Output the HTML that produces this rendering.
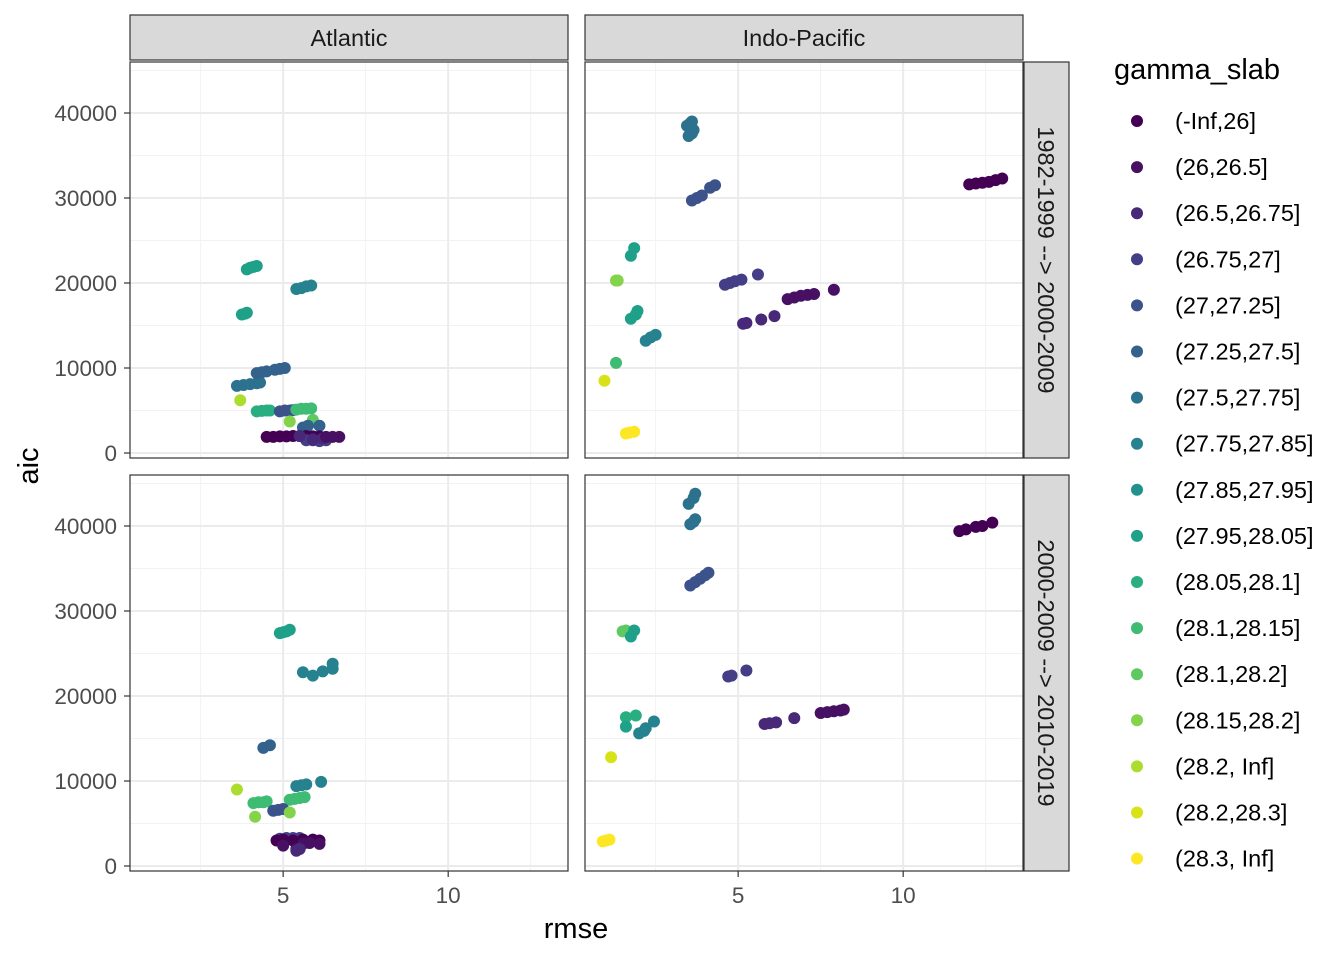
<!DOCTYPE html>
<html><head><meta charset="utf-8"><style>
body{margin:0;background:#fff;font-family:"Liberation Sans",sans-serif}
svg text{font-family:"Liberation Sans",sans-serif}
</style></head><body>
<svg id="c" width="1344" height="960" xmlns="http://www.w3.org/2000/svg"></svg>
<script>
const levels=["(-Inf,26]","(26,26.5]","(26.5,26.75]","(26.75,27]","(27,27.25]","(27.25,27.5]","(27.5,27.75]","(27.75,27.85]","(27.85,27.95]","(27.95,28.05]","(28.05,28.1]","(28.1,28.15]","(28.1,28.2]","(28.15,28.2]","(28.2, Inf]","(28.2,28.3]","(28.3, Inf]"];
const colors=["#440154","#471063","#482878","#433e85","#3b528b","#33638d","#2c728e","#26828e","#21918c","#1fa088","#28ae80","#3fbc73","#5ec962","#84d44b","#addc30","#d8e219","#fde725"];
const xTicks=[5,10];
const yTicks=[0,10000,20000,30000,40000];
const facetCols=["Atlantic","Indo-Pacific"];
const facetRows=["1982-1999 --> 2000-2009","2000-2009 --> 2010-2019"];
const ptPanel=[];const ptX=[];const ptY=[];const ptLev=[];
function add(p,lev,xs,ys){for(let i=0;i<xs.length;i++){ptPanel.push(p);ptLev.push(lev);ptX.push(xs[i]);ptY.push(ys[i]);}}
// Atlantic row1
add(0,9,[3.9,4.0,4.1,4.2],[21600,21800,21900,22000]);
add(0,9,[3.75,3.85,3.9],[16300,16400,16500]);
add(0,7,[5.4,5.55,5.7,5.85],[19300,19400,19600,19700]);
add(0,6,[3.6,3.8,4.0,4.2,4.3],[7900,8000,8100,8200,8300]);
add(0,5,[4.2,4.35,4.5],[9400,9500,9600]);
add(0,5,[4.75,4.9,5.05],[9800,9900,10000]);
add(0,14,[3.7],[6200]);
add(0,10,[4.2,4.35,4.5,4.6],[4900,4950,5000,5000]);
add(0,4,[4.9,5.05,5.2,5.3],[4900,5000,5000,5050]);
add(0,11,[5.4,5.55,5.7,5.85],[5100,5200,5200,5250]);
add(0,13,[5.2],[3700]);add(0,12,[5.9],[3900]);
add(0,5,[5.6,5.75,6.1],[3000,3200,3200]);
add(0,0,[4.5,4.7,4.9,5.1,5.3,5.5,5.7,5.9,6.1],[1900,1900,1950,1950,2000,2000,2000,1950,1950]);
add(0,3,[5.7,5.9,6.1,6.3],[1500,1500,1400,1500]);
add(0,2,[5.5,5.9,6.2],[2000,1600,1700]);
add(0,1,[6.3,6.5,6.7],[1900,1900,1900]);
// Indo row1
add(1,6,[3.45,3.55,3.6,3.5,3.6,3.65],[38500,38800,39000,37300,37600,38000]);
add(1,4,[3.6,3.75,3.9,4.15,4.3],[29700,30000,30300,31200,31500]);
add(1,9,[1.75,1.85],[23200,24100]);
add(1,13,[1.3,1.35],[20300,20300]);
add(1,9,[1.75,1.9,1.95],[15800,16300,16700]);
add(1,7,[2.2,2.35,2.5],[13200,13600,13900]);
add(1,11,[1.3],[10600]);
add(1,15,[0.95],[8500]);
add(1,16,[1.6,1.7,1.85],[2300,2400,2500]);
add(1,3,[4.6,4.75,4.9,5.1],[19800,20000,20200,20400]);add(1,3,[5.6],[21000]);
add(1,2,[5.15,5.25],[15200,15300]);add(1,2,[5.7],[15700]);add(1,2,[6.1],[16100]);
add(1,1,[6.5,6.7,6.9,7.1,7.3],[18100,18300,18500,18600,18700]);add(1,1,[7.9],[19200]);
add(1,0,[12.0,12.2,12.4,12.6,12.8,13.0],[31600,31700,31800,31900,32100,32300]);
// Atlantic row2
add(2,9,[4.9,5.0,5.1,5.2],[27400,27500,27600,27800]);
add(2,7,[5.6],[22800]);add(2,7,[5.9],[22400]);add(2,7,[6.2],[22900]);add(2,7,[6.5,6.5],[23200,23800]);
add(2,5,[4.4,4.6],[13900,14200]);
add(2,7,[5.4,5.55,5.7],[9400,9500,9600]);add(2,7,[6.15],[9900]);
add(2,14,[3.6],[9000]);
add(2,11,[4.1,4.25,4.4,4.5],[7400,7500,7500,7600]);
add(2,11,[5.2,5.35,5.5,5.65],[7800,7900,8000,8100]);
add(2,4,[4.7,4.85,5.0],[6500,6600,6700]);
add(2,13,[5.2],[6300]);add(2,13,[4.15],[5800]);
add(2,3,[4.9,5.1,5.3,5.5],[3200,3300,3300,3300]);
add(2,0,[4.8,5.0,5.3,5.6,5.9,6.1],[3000,3100,3000,3100,3100,3000]);
add(2,1,[5.0,5.4,5.6,5.8,6.1],[2400,2000,2600,2700,2600]);
add(2,2,[5.4,5.5],[1800,2000]);
// Indo row2
add(3,6,[3.5,3.65,3.7],[42600,43300,43800]);add(3,6,[3.55,3.65,3.7],[40200,40500,40800]);
add(3,4,[3.55,3.7,3.85,4.0,4.1],[33000,33400,33800,34200,34500]);
add(3,12,[1.5,1.6],[27600,27700]);add(3,9,[1.75,1.85],[27000,27700]);
add(3,3,[4.7,4.8],[22300,22400]);add(3,3,[5.25],[23000]);
add(3,10,[1.6,1.9],[17500,17700]);add(3,9,[1.6],[16400]);add(3,7,[2.45],[17000]);
add(3,7,[2.0,2.15,2.2],[15600,15900,16200]);
add(3,15,[1.15],[12800]);
add(3,16,[0.9,1.0,1.1],[2900,3000,3100]);
add(3,2,[5.8,5.95,6.15],[16700,16800,16900]);add(3,2,[6.7],[17400]);
add(3,1,[7.5,7.7,7.9,8.1,8.2],[18000,18100,18200,18300,18400]);
add(3,0,[11.7,11.9,12.2,12.4,12.7],[39400,39600,39900,40000,40400]);

const svg=document.getElementById('c');const NS="http://www.w3.org/2000/svg";
function el(t,a,p){const e=document.createElementNS(NS,t);for(const k in a)e.setAttribute(k,a[k]);(p||svg).appendChild(e);return e;}
const PX=[130,585],PW=438,PY=[62,475],PH=396;
const xMin=0.36,xMax=13.63,yMin=-588,yMax=46000;
function sx(c,v){return PX[c]+(v-xMin)/(xMax-xMin)*PW;}
function sy(r,v){return PY[r]+PH-(v-yMin)/(yMax-yMin)*PH;}
for(let r=0;r<2;r++)for(let c=0;c<2;c++){
 const g=el('g',{});
 
 
 el('rect',{x:PX[c],y:PY[r],width:PW,height:PH,fill:'#fff'},g);
 [2.5,7.5,12.5].forEach(v=>el('line',{x1:sx(c,v),x2:sx(c,v),y1:PY[r],y2:PY[r]+PH,stroke:'#f2f2f2','stroke-width':1},g));
 [5000,15000,25000,35000,45000].forEach(v=>el('line',{x1:PX[c],x2:PX[c]+PW,y1:sy(r,v),y2:sy(r,v),stroke:'#f2f2f2','stroke-width':1},g));
 xTicks.forEach(v=>el('line',{x1:sx(c,v),x2:sx(c,v),y1:PY[r],y2:PY[r]+PH,stroke:'#ebebeb','stroke-width':2},g));
 yTicks.forEach(v=>el('line',{x1:PX[c],x2:PX[c]+PW,y1:sy(r,v),y2:sy(r,v),stroke:'#ebebeb','stroke-width':2},g));
 for(let i=0;i<ptX.length;i++){ if(ptPanel[i]!==r*2+c)continue;
  const p=el('circle',{cx:sx(c,ptX[i]),cy:sy(r,ptY[i]),r:6,fill:colors[ptLev[i]]},g);
  
  
 }
 el('rect',{x:PX[c],y:PY[r],width:PW,height:PH,fill:'none',stroke:'#333','stroke-width':1.2},g);
}
facetCols.forEach((n,c)=>{el('rect',{x:PX[c],y:15,width:PW,height:45,fill:'#d9d9d9',stroke:'#333','stroke-width':1.2});
 const t=el('text',{x:PX[c]+PW/2,y:46,'text-anchor':'middle','font-size':23.5,fill:'#1a1a1a'});t.textContent=n;
 });
facetRows.forEach((n,r)=>{el('rect',{x:1024,y:PY[r],width:45,height:PH,fill:'#d9d9d9',stroke:'#333','stroke-width':1.2});
 const t=el('text',{x:0,y:0,'text-anchor':'middle','font-size':23.5,fill:'#1a1a1a',transform:`translate(1038,${PY[r]+PH/2}) rotate(90)`});t.textContent=n;
 });
for(let r=0;r<2;r++)yTicks.forEach(v=>{el('line',{x1:124,x2:130,y1:sy(r,v),y2:sy(r,v),stroke:'#333','stroke-width':1.2});
 const t=el('text',{x:117,y:sy(r,v)+8,'text-anchor':'end','font-size':22.5,fill:'#4d4d4d'});t.textContent=v;
 });
for(let c=0;c<2;c++)xTicks.forEach(v=>{el('line',{x1:sx(c,v),x2:sx(c,v),y1:871,y2:877,stroke:'#333','stroke-width':1.2});
 const t=el('text',{x:sx(c,v),y:903,'text-anchor':'middle','font-size':22.5,fill:'#4d4d4d'});t.textContent=v;
 });
let t=el('text',{x:576,y:938,'text-anchor':'middle','font-size':29,fill:'#000'});t.textContent='rmse';

t=el('text',{x:0,y:0,'text-anchor':'middle','font-size':29,fill:'#000',transform:'translate(38,466) rotate(-90)'});t.textContent='aic';

t=el('text',{x:1114,y:79,'font-size':29,fill:'#000'});t.textContent='gamma_slab';

levels.forEach((l,i)=>{const g=el('g',{});
 el('circle',{cx:1137,cy:121+46.1*i,r:6,fill:colors[i]},g);
 const tt=el('text',{x:1175,y:129+46.1*i,'font-size':23.5,fill:'#000'},g);tt.textContent=l;});
</script>
</body></html>
